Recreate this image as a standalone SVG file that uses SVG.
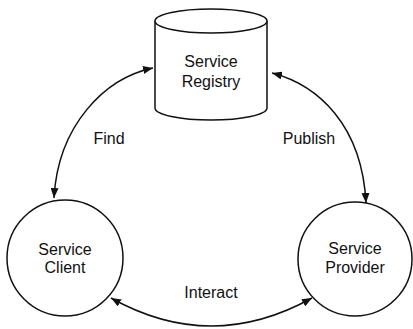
<svg xmlns="http://www.w3.org/2000/svg" width="413" height="329" viewBox="0 0 413 329">
<style>
.shape{fill:#fff;stroke:#111;stroke-width:1.5}
.conn{fill:none;stroke:#111;stroke-width:1.5;marker-start:url(#ah);marker-end:url(#ah)}
text{font-family:"Liberation Sans",Arial,sans-serif;font-size:16px;fill:#111;text-anchor:middle}
</style>
<defs>
<marker id="ah" viewBox="0 0 10 8" refX="10" refY="4" markerWidth="10" markerHeight="8" markerUnits="userSpaceOnUse" orient="auto-start-reverse">
<path d="M0,0 L10,4 L0,8 Z" fill="#111"/>
</marker>
</defs>
<rect width="413" height="329" fill="#fff"/>
<g id="registry">
<path class="shape" d="M155,21 L155,108 A56,12 0 0 0 267,108 L267,21"/>
<ellipse class="shape" cx="211" cy="21" rx="56" ry="12"/>
<text x="211" y="67">Service</text>
<text x="211" y="87">Registry</text>
</g>
<g id="client">
<circle class="shape" cx="65" cy="258" r="58"/>
<text x="65" y="255">Service</text>
<text x="65" y="273">Client</text>
</g>
<g id="provider">
<circle class="shape" cx="355" cy="259" r="57"/>
<text x="355" y="254">Service</text>
<text x="355" y="273">Provider</text>
</g>
<g id="connectors">
<path class="conn" d="M153,68 C105,78 58,125 54,198"/>
<path class="conn" d="M272,73 C318,85 362,125 366,203"/>
<path class="conn" d="M111,298 Q211,354 312,298"/>
<text x="109" y="144">Find</text>
<text x="309" y="144">Publish</text>
<text x="211" y="298">Interact</text>
</g>
</svg>
